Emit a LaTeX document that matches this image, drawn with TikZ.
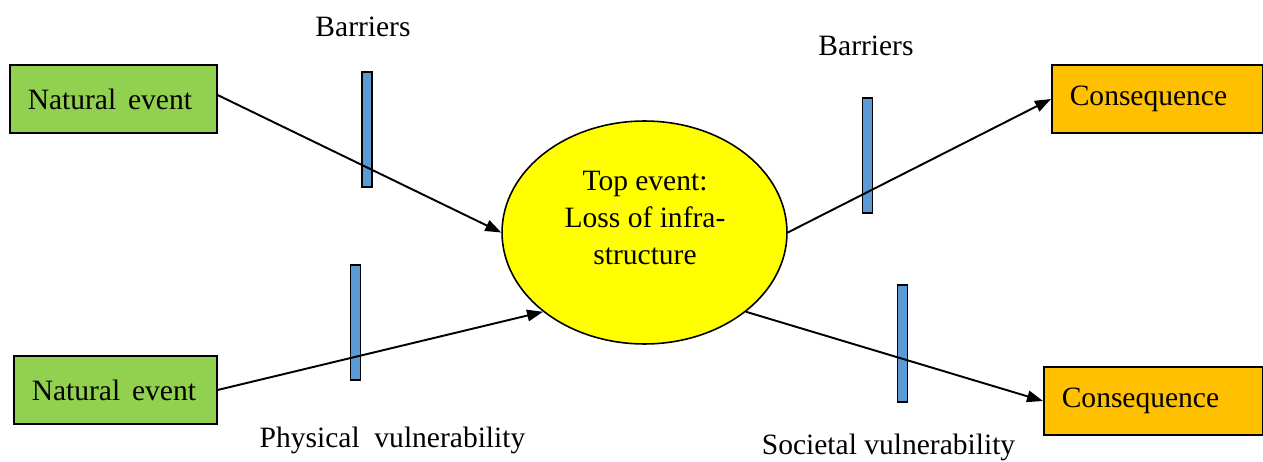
\documentclass[tikz,border=0pt]{standalone}
\usepackage{fontspec}
\setmainfont{Liberation Serif}
\usetikzlibrary{shapes.geometric,arrows.meta}

\definecolor{eventgreen}{HTML}{92D050}
\definecolor{consorange}{HTML}{FFC000}
\definecolor{topyellow}{HTML}{FFFF00}
\definecolor{barrierblue}{HTML}{5B9BD5}

\tikzset{
  eventbox/.style={draw, line width=0.9pt, fill=eventgreen, anchor=west,
    align=left, inner xsep=0.36cm, minimum height=1.36cm},
  consbox/.style={eventbox, fill=consorange},
  barrier/.style={draw, line width=0.9pt, fill=barrierblue, inner sep=0pt,
    minimum width=0.2cm},
  flow/.style={-{Triangle[length=0.32cm,width=0.23cm]}, line width=1.1pt},
}

\begin{document}
\begin{tikzpicture}[x=0.02cm, y=-0.02cm, font=\fontsize{16.8}{20.8}\selectfont]
  \useasboundingbox (0,0) rectangle (1263,462);

  % Natural events on the left
  \node[eventbox, text width=3.42cm] (ne1) at (9,99) {Natural\hspace{0.4em}event};
  \node[eventbox, text width=3.34cm] (ne2) at (13,390) {Natural\hspace{0.4em}event};

  % Top event in the middle
  \node[draw, line width=0.9pt, fill=topyellow, ellipse, inner sep=0pt,
    minimum width=5.7cm, minimum height=4.46cm] (top) at (644.5,232.5) {};
  \node[align=center] (toptext) at (645,218) {Top event:\\Loss of infra-\\structure};

  % Consequences on the right
  \node[consbox, text width=3.50cm] (con1) at (1051,99) {Consequence};
  \node[consbox, text width=3.66cm] (con2) at (1043,401) {Consequence};

  % Barrier bars
  \node[barrier, minimum height=2.3cm] (bar1) at (367,129.5) {};
  \node[barrier, minimum height=2.3cm] (bar2) at (355.5,322.5) {};
  \node[barrier, minimum height=2.3cm] (bar3) at (867.5,155.5) {};
  \node[barrier, minimum height=2.34cm] (bar4) at (902.5,343.5) {};

  % Labels
  \node (barlab1) at (363,27) {Barriers};
  \node (barlab2) at (866,46) {Barriers};
  \node (physlab) at (392.5,440) {Physical\ \ vulnerability};
  \node (soclab) at (888.5,447) {Societal\ vulnerability};

  % Arrows into and out of the top event
  \draw[flow] ([yshift=0.08cm]ne1.east) -- (top.west);
  \draw[flow] (ne2.east) -- (top.218);
  \draw[flow] (top.east) -- (con1.west);
  \draw[flow] (top.322.5) -- (con2.west);
\end{tikzpicture}
\end{document}
